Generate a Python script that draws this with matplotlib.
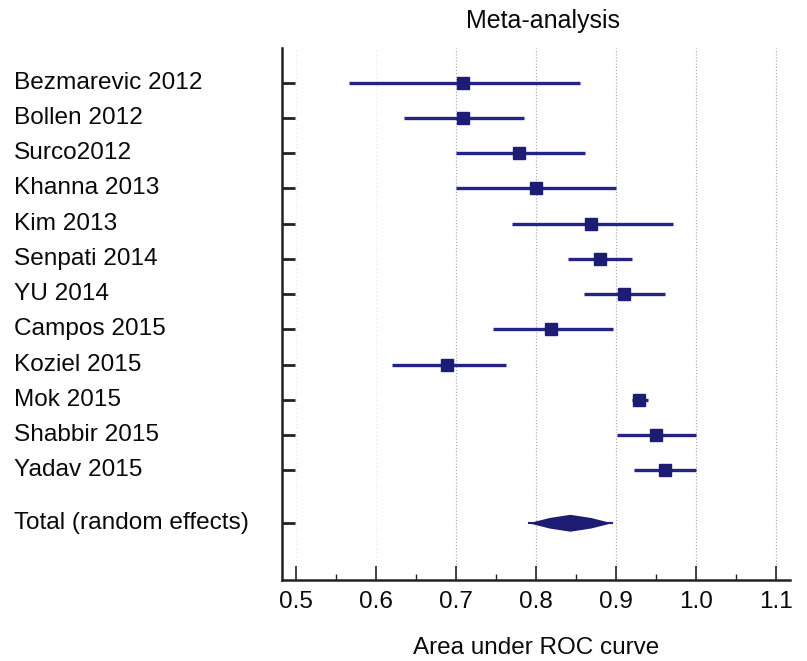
import matplotlib
matplotlib.use("Agg")
import matplotlib.pyplot as plt
from matplotlib.transforms import blended_transform_factory
from matplotlib.ticker import MultipleLocator

plt.rcParams['font.family'] = ['Liberation Sans', 'DejaVu Sans']

studies = ["Bezmarevic 2012", "Bollen 2012", "Surco2012", "Khanna 2013", "Kim 2013",
           "Senpati 2014", "YU 2014", "Campos 2015", "Koziel 2015", "Mok 2015",
           "Shabbir 2015", "Yadav 2015"]
auc = [0.709, 0.709, 0.779, 0.800, 0.869, 0.880, 0.910, 0.819, 0.689, 0.929, 0.950, 0.961]
ci_low = [0.566, 0.635, 0.700, 0.700, 0.770, 0.840, 0.860, 0.746, 0.620, 0.920, 0.901, 0.923]
ci_high = [0.855, 0.785, 0.861, 0.900, 0.971, 0.920, 0.961, 0.896, 0.762, 0.940, 1.000, 1.000]

total_label = "Total (random effects)"
total_auc = 0.843
total_low = 0.791
total_high = 0.895

xticks = [0.5, 0.6, 0.7, 0.8, 0.9, 1.0, 1.1]
xticklabels = ["0.5", "0.6", "0.7", "0.8", "0.9", "1.0", "1.1"]

navy = "#23238a"
sq = "#1c1c74"
txt = "#0a0a0a"

fig = plt.figure(figsize=(8.07, 6.61), dpi=100)
ax = fig.add_axes([282/807, 1-580/661, 508/807, (580-48)/661])

ax.set_xlim(0.4825, 1.1175)
ax.set_ylim(14.11, -0.984)

# grid
for xt in xticks:
    if xt >= 0.7:
        ax.axvline(xt, color="#b0b0b0", lw=0.9, ls=(0, (1, 1.5)), zorder=0)
    else:
        ax.axvline(xt, color="#e6e6e6", lw=0.8, ls=(0, (1, 2.5)), zorder=0)

rows = list(range(len(studies)))
for i, (m, lo, hi) in enumerate(zip(auc, ci_low, ci_high)):
    ax.plot([lo, hi], [i, i], color=navy, lw=2.4, solid_capstyle='butt', zorder=2)
    ax.plot([m], [i], marker='s', ms=8.8, color=sq, mec=sq, zorder=3)

ty = 12.5
ax.plot([total_low, total_high], [ty, ty], color=navy, lw=1.5, zorder=2)
h = 0.24
left_mid = (total_low + total_auc) / 2
right_mid = (total_auc + total_high) / 2
ax.fill([total_low, left_mid, total_auc, right_mid, total_high, right_mid, total_auc, left_mid],
        [ty, ty - h * 0.62, ty - h, ty - h * 0.62, ty, ty + h * 0.62, ty + h, ty + h * 0.62],
        color=sq, zorder=3, lw=0)

# y labels
trans = blended_transform_factory(fig.transFigure, ax.transData)
for i, s in enumerate(studies):
    ax.text(14/807, i, s, transform=trans, ha='left', va='center', fontsize=17.6, color=txt)
ax.text(14/807, ty, total_label, transform=trans, ha='left', va='center', fontsize=17.6, color=txt)

ax.set_yticks(rows + [ty])
ax.set_yticklabels([])
ax.tick_params(axis='y', direction='in', length=9.5, width=2.0, color="#222222")

ax.set_xticks(xticks)
ax.set_xticklabels(xticklabels, fontsize=17.5, color=txt)
ax.xaxis.set_minor_locator(MultipleLocator(0.05))
ax.tick_params(axis='x', which='major', direction='in', length=10, width=1.2, pad=8, color="#222222")
ax.tick_params(axis='x', which='minor', direction='in', length=4.5, width=1.0, color="#222222")

for sp in ['top', 'right']:
    ax.spines[sp].set_visible(False)
ax.spines['left'].set_linewidth(1.8)
ax.spines['bottom'].set_linewidth(1.8)
ax.spines['left'].set_color("#222222")
ax.spines['bottom'].set_color("#222222")

ax.set_xlabel("Area under ROC curve", fontsize=17.5, labelpad=17, color=txt)
fig.text(543/807, 1-21/661, "Meta-analysis", ha='center', va='center', fontsize=18, color=txt)

fig.savefig("out.png", dpi=100)
